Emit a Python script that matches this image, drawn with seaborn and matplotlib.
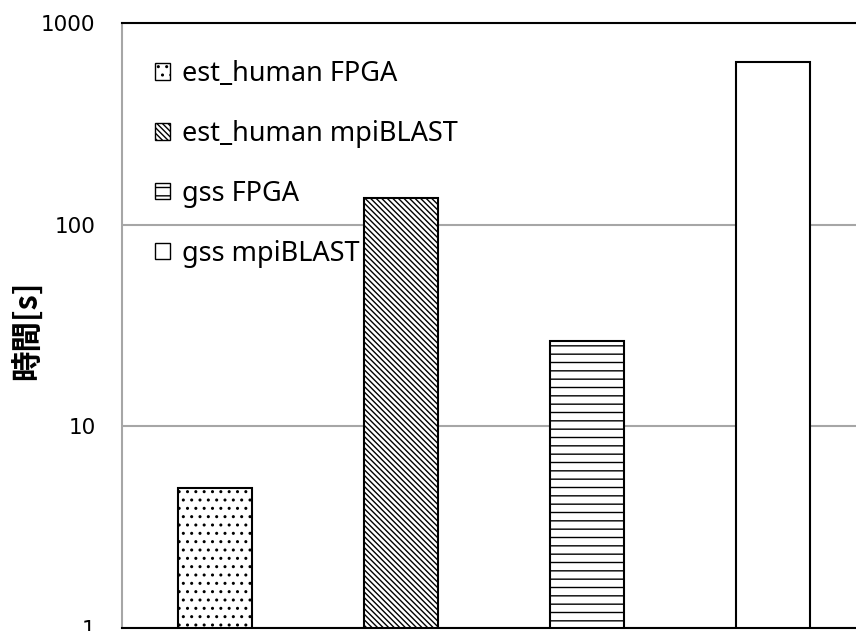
import numpy as np
import pandas as pd
import matplotlib
matplotlib.use("Agg")
import matplotlib.pyplot as plt
import seaborn as sns
from matplotlib.patches import Patch
from matplotlib.ticker import FixedLocator, FixedFormatter, NullLocator

# data
categories = ["est_human FPGA", "est_human mpiBLAST", "gss FPGA", "gss mpiBLAST"]
times = [4.95, 135, 26.5, 640]
hatches = ["..", "\\\\\\\\\\\\", "--", ""]
y_ticks = [1, 10, 100, 1000]
y_tick_labels = ["1", "10", "100", "1000"]

sns.set_style("white")
plt.rcParams["font.family"] = ["DejaVu Sans"]
plt.rcParams["text.color"] = "black"
plt.rcParams["ytick.color"] = "black"
plt.rcParams["hatch.linewidth"] = 1.0

df = pd.DataFrame({"case": categories, "time": times})

fig = plt.figure(figsize=(8.56, 6.31), dpi=100)
ax = fig.add_axes([122 / 856, 3 / 631, 744 / 856, 605 / 631])
ax.set_yscale("log")

sns.barplot(data=df, x="case", y="time", hue="case", palette=["white"] * 4,
            edgecolor="black", linewidth=1.5, width=0.4, legend=False,
            saturation=1, ax=ax)

for bar, h in zip(ax.patches, hatches):
    bar.set_hatch(h)

ax.set_ylim(1, 1000)
ax.set_xlim(-0.5, 3.5)

# grid lines and axis styling like the spreadsheet original
ax.yaxis.set_major_locator(FixedLocator(y_ticks))
ax.yaxis.set_major_formatter(FixedFormatter(y_tick_labels))
ax.yaxis.set_minor_locator(NullLocator())
ax.grid(axis="y", color="#a6a6a6", linewidth=1.5)
ax.set_axisbelow(True)
ax.tick_params(axis="y", length=0, pad=19, labelsize=15.5, labelcolor="black")
ax.set_xticks([])
ax.set_xlabel("")
ax.set_ylabel("")
ax.spines["left"].set_color("#a6a6a6")
ax.spines["left"].set_linewidth(1.5)
ax.spines["top"].set_color("black")
ax.spines["top"].set_linewidth(1.5)
ax.spines["bottom"].set_color("black")
ax.spines["bottom"].set_linewidth(1.5)
ax.spines["right"].set_visible(False)

# legend with small hatched boxes
handles = [Patch(facecolor="white", edgecolor="black", linewidth=1.0, hatch=h, label=c)
           for c, h in zip(categories, hatches)]
fig.legend(handles=handles, loc="upper left", bbox_to_anchor=(155 / 856, 1 - 60 / 631),
           frameon=False, handlelength=0.55, handleheight=0.55,
           handletextpad=0.45, labelspacing=1.18, borderpad=0, borderaxespad=0,
           labelcolor="black",
           prop={"family": ["Noto Sans", "DejaVu Sans"], "size": 19.5})

fig.text(28 / 856, 1 - 330 / 631, "時間[s]", rotation=90, ha="center", va="center",
         fontsize=22, fontweight="bold", color="black",
         family=["Noto Sans CJK JP", "DejaVu Sans"])

fig.savefig("out.png", dpi=100)
